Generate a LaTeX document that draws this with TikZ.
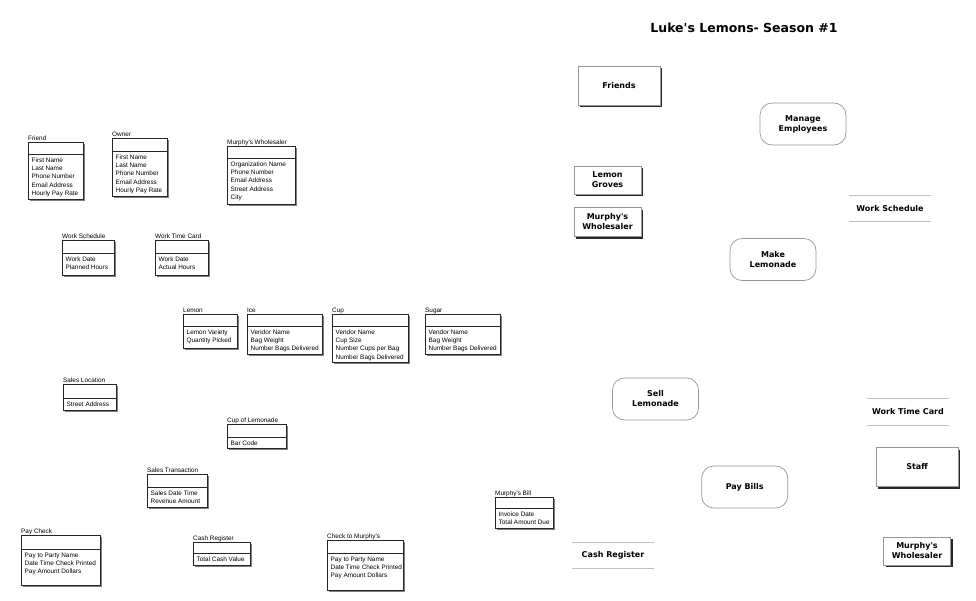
\documentclass[tikz,border=0pt]{standalone}
\usepackage{fontspec}
\setmainfont{DejaVu Sans}[Ligatures=TeXOff]
\newfontfamily\entfont{Liberation Sans}[Ligatures=TeXOff]
\usetikzlibrary{calc, shadows}
\definecolor{shadowCol}{RGB}{38,44,30}
\definecolor{lineCol}{RGB}{150,150,150}
\tikzset{
    entity/.style={draw=black!85, line width=0.6pt},
    entshadow/.style={fill=black!50},
    enttitle/.style={font=\entfont\fontsize{6.4}{7}\selectfont, anchor=base west, inner sep=0pt},
    entattr/.style={font=\entfont\fontsize{6.4}{8.3}\selectfont, anchor=north west, align=left, inner sep=0pt},
    extent/.style={draw=lineCol, fill=white, line width=0.6pt, align=center,
        font=\bfseries\fontsize{8}{10}\selectfont,
        drop shadow={shadow xshift=2.2pt, shadow yshift=-2.2pt, fill=shadowCol, opacity=1}},
    process/.style={draw=lineCol, rounded corners=12pt, line width=0.7pt, align=center,
        minimum width=86pt, minimum height=42pt, font=\bfseries\fontsize{8}{10}\selectfont},
    store/.style={minimum width=82pt, minimum height=26pt, font=\bfseries\fontsize{8}{10}\selectfont},
    storeline/.style={draw=black!25, line width=0.8pt},
    common settings/.style={x=1pt, y=-1pt}
}

% data model box: name, left, top, right, divider, bottom, title, attributes
\newcommand{\entbox}[8]{%
    \coordinate (#1-nw) at (#2,#3);
    \coordinate (#1-se) at (#4,#6);
    \fill[entshadow] ($(#1-nw)+(2,2)$) rectangle ($(#1-se)+(2,2)$);
    \fill[white] (#1-nw) rectangle (#1-se);
    \draw[entity] (#1-nw) rectangle (#1-se);
    \draw[entity] (#2,#5) -- (#4,#5);
    \node[enttitle] (#1-title) at ($(#1-nw)+(0,-2)$) {#7};
    \node[entattr] (#1-attr) at ($(#2,#5)+(3.5,3.5)$) {#8};
}

\begin{document}
\begin{tikzpicture}[common settings]

    \useasboundingbox (0,0) rectangle (976,600);

    % 1. Data model boxes
    \entbox{friend}{28}{142}{83}{154}{199}{Friend}{First Name\\Last Name\\Phone Number\\Email Address\\Hourly Pay Rate}
    \entbox{owner}{112}{138}{167}{151}{196}{Owner}{First Name\\Last Name\\Phone Number\\Email Address\\Hourly Pay Rate}
    \entbox{murphyw}{227}{146}{295}{158}{204}{Murphy's Wholesaler}{Organization Name\\Phone Number\\Email Address\\Street Address\\City}
    \entbox{worksched}{62}{240}{114}{253}{275}{Work Schedule}{Work Date\\Planned Hours}
    \entbox{worktime}{155}{240}{208}{253}{275}{Work Time Card}{Work Date\\Actual Hours}
    \entbox{lemon}{183}{314}{237}{326}{348}{Lemon}{Lemon Variety\\Quantity Picked}
    \entbox{ice}{247}{314}{322}{326}{354}{Ice}{Vendor Name\\Bag Weight\\Number Bags Delivered}
    \entbox{cup}{332}{314}{408}{326}{362}{Cup}{Vendor Name\\Cup Size\\Number Cups per Bag\\Number Bags Delivered}
    \entbox{sugar}{425}{314}{500}{326}{354}{Sugar}{Vendor Name\\Bag Weight\\Number Bags Delivered}
    \entbox{saleloc}{63}{384}{116}{398}{410}{Sales Location}{Street Address}
    \entbox{cuplem}{227}{424}{286}{437}{448}{Cup of Lemonade}{Bar Code}
    \entbox{saletrans}{147}{474}{207}{487}{507}{Sales Transaction}{Sales Date Time\\Revenue Amount}
    \entbox{paycheck}{21}{535}{100}{549}{585}{Pay Check}{Pay to Party Name\\Date Time Check Printed\\Pay Amount Dollars}
    \entbox{cashreg}{193}{542}{250}{553}{565}{Cash Register}{Total Cash Value}
    \entbox{checkm}{327}{540}{403}{553}{590}{Check to Murphy's}{Pay to Party Name\\Date Time Check Printed\\Pay Amount Dollars}
    \entbox{mbill}{495}{497}{553}{508}{528}{Murphy's Bill}{Invoice Date\\Total Amount Due}

    % 2. Title
    \node[font=\bfseries\fontsize{12.5}{14}\selectfont] (title) at (744,28) {Luke's Lemons- Season \#1};

    % 3. External entities
    \node[extent, minimum width=82pt, minimum height=39pt] (friends) at (619,85.5) {Friends};
    \node[extent, minimum width=67pt, minimum height=28pt] (groves) at (607.5,180) {Lemon\\Groves};
    \node[extent, minimum width=67pt, minimum height=29pt] (wholesaler) at (607.5,222) {Murphy's\\Wholesaler};
    \node[extent, minimum width=82pt, minimum height=39pt] (staff) at (917,467) {Staff};
    \node[extent, minimum width=67pt, minimum height=28pt] (wholesaler2) at (917,551) {Murphy's\\Wholesaler};

    % 4. Processes
    \node[process] (manage) at (803,124) {Manage\\Employees};
    \node[process] (make) at (773,259.5) {Make\\Lemonade};
    \node[process] (sell) at (655.5,399) {Sell\\Lemonade};
    \node[process] (paybills) at (744.7,487) {Pay Bills};

    % 5. Data stores
    \node[store] (wsched) at (890,208.5) {Work Schedule};
    \node[store] (wtime) at (908,412) {Work Time Card};
    \node[store] (cashstore) at (613,555.5) {Cash Register};
    \foreach \s in {wsched, wtime, cashstore} {
        \draw[storeline] (\s.north west) -- (\s.north east);
        \draw[storeline] (\s.south west) -- (\s.south east);
    }

\end{tikzpicture}
\end{document}
